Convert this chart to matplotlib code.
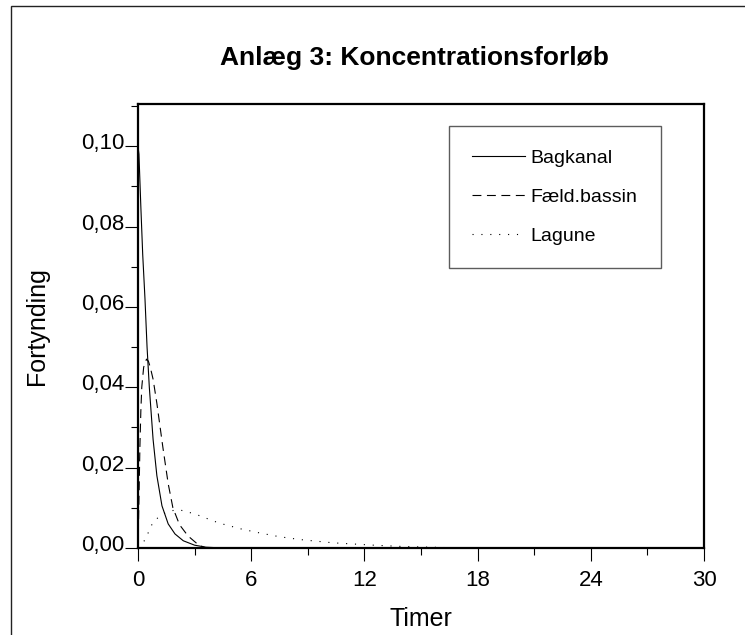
import matplotlib
matplotlib.use('Agg')
import matplotlib.pyplot as plt
from matplotlib.ticker import MultipleLocator, FuncFormatter
from matplotlib.patches import Rectangle
import matplotlib.transforms as mtrans

plt.rcParams['font.family'] = ['Liberation Sans', 'DejaVu Sans']

# Series (timer, fortynding)
bag_t = [0, 0.05, 0.15, 0.25, 0.37, 0.48, 0.6, 0.8, 1.0, 1.27, 1.6, 1.96, 2.4, 3.0, 3.6, 4.5]
bag_y = [0.100, 0.098, 0.085, 0.073, 0.062, 0.050, 0.040, 0.027, 0.018, 0.0105,
         0.0060, 0.0035, 0.0018, 0.0007, 0.0002, 0.0]

faeld_t = [0, 0.05, 0.1, 0.15, 0.2, 0.3, 0.45, 0.55, 0.65, 0.8, 1.0, 1.32, 1.6,
           1.85, 2.2, 2.65, 3.2, 3.6]
faeld_y = [0, 0.012, 0.025, 0.034, 0.040, 0.045, 0.047, 0.0465, 0.045, 0.042, 0.036,
           0.025, 0.016, 0.010, 0.0058, 0.0030, 0.0008, 0.0]

lag_t = [0, 0.37, 0.8, 1.3, 1.8, 2.2, 3.0, 4.3, 5.5, 6.5, 7.5, 8.6, 10.3, 11.4,
         12.5, 13.9, 15.5, 17.2]
lag_y = [0, 0.002, 0.0065, 0.0085, 0.0093, 0.0095, 0.0085, 0.0062, 0.0047, 0.0037,
         0.0028, 0.0021, 0.0013, 0.0010, 0.0007, 0.0004, 0.0002, 0.0]

labels = ['Bagkanal', 'Fæld.bassin', 'Lagune']

fig = plt.figure(figsize=(7.45, 6.35), dpi=100)
ax = fig.add_axes([138/745, 1-548/635, (704-138)/745, (548-104)/635])

# outer frame of the picture
fig.patches.append(Rectangle((11/745, -0.05), 1.2, 1-6/635+0.05, transform=fig.transFigure,
                             fill=False, lw=1, ec='#222222'))

ax.plot(bag_t, bag_y, color='black', lw=0.8, label=labels[0])
ax.plot(faeld_t, faeld_y, color='black', lw=0.8, linestyle=(0, (8, 5)), label=labels[1])
ax.plot(lag_t, lag_y, color='black', lw=0.8, linestyle=(0, (1, 7)), label=labels[2])

ax.set_xlim(0, 30)
ax.set_ylim(0, 0.1105)
ax.xaxis.set_major_locator(MultipleLocator(6))
ax.xaxis.set_minor_locator(MultipleLocator(3))
ax.yaxis.set_major_locator(MultipleLocator(0.02))
ax.yaxis.set_minor_locator(MultipleLocator(0.01))
ax.yaxis.set_major_formatter(FuncFormatter(lambda v, p: f'{v:.2f}'.replace('.', ',')))

for s in ax.spines.values():
    s.set_linewidth(1.6)
ax.tick_params(which='major', direction='out', length=9.5, width=0.8, labelsize=16, pad=0)
ax.tick_params(which='minor', direction='out', length=5, width=0.8)
ax.tick_params(axis='x', which='major', pad=6.5)

# lift the y tick labels a little, as in the reference
for lab in ax.get_yticklabels():
    lab.set_transform(lab.get_transform() + mtrans.ScaledTranslation(0, 5/100, fig.dpi_scale_trans))

ax.set_xlabel('Timer', fontsize=18, labelpad=11)
ax.set_ylabel('Fortynding', fontsize=18, labelpad=23)
fig.text(414/745, 1-58/635, 'Anlæg 3: Koncentrationsforløb', ha='center', va='center',
         fontsize=19, fontweight='bold')

leg = ax.legend(loc='upper left', bbox_to_anchor=(449/745, 1-126/635),
                bbox_transform=fig.transFigure, fontsize=14, handlelength=2.7,
                handletextpad=0.3, labelspacing=1.1, borderpad=1.2, borderaxespad=0,
                fancybox=False, frameon=True)
leg.get_frame().set_edgecolor('#333333')
leg.get_frame().set_linewidth(1)

fig.savefig('out.png', dpi=100)
